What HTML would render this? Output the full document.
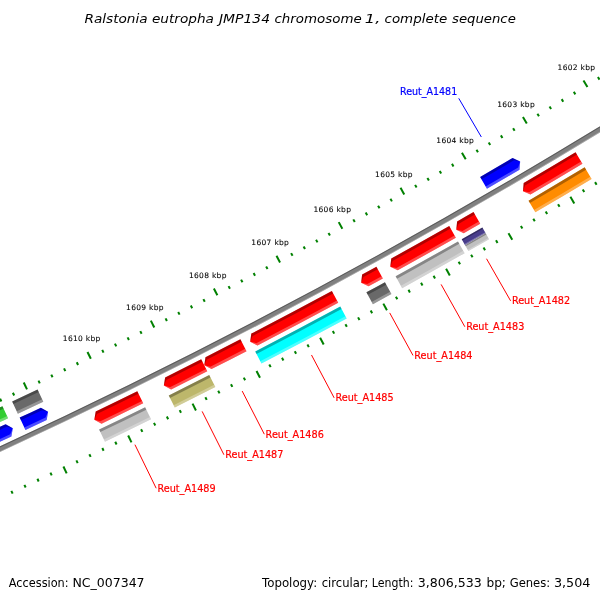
<!DOCTYPE html>
<html><head><meta charset="utf-8"><title>Ralstonia eutropha JMP134 chromosome 1, complete sequence</title>
<style>
html,body{margin:0;padding:0;background:#fff;}
body{width:600px;height:600px;overflow:hidden;}
svg{display:block;font-family:"DejaVu Sans","Liberation Sans",sans-serif;}
</style></head><body>
<svg width="600" height="600" viewBox="0 0 600 600">
<rect width="600" height="600" fill="#fff"/>
<path d="M704.50 61.29 A5995.1 5995.1 0 0 1 -126.13 502.94 L-124.06 507.71 A6000.4 6000.4 0 0 0 707.30 65.67 Z" fill="#808080"/>
<path d="M704.50 61.29 A5995.1 5995.1 0 0 1 -126.13 502.94 L-125.73 503.86 A5996.1 5996.1 0 0 0 705.04 62.13 Z" fill="#000" fill-opacity="0.30"/>
<path d="M706.87 65.00 A5999.6 5999.6 0 0 1 -124.38 506.98 L-124.06 507.71 A6000.4 6000.4 0 0 0 707.30 65.67 Z" fill="#fff" fill-opacity="0.30"/>
<line x1="597.93" y1="77.05" x2="599.50" y2="79.61" stroke="#008000" stroke-width="2.0"/>
<line x1="583.47" y1="80.52" x2="587.43" y2="87.00" stroke="#008000" stroke-width="2.0"/>
<line x1="573.78" y1="91.81" x2="575.34" y2="94.37" stroke="#008000" stroke-width="2.0"/>
<line x1="561.68" y1="99.14" x2="563.23" y2="101.71" stroke="#008000" stroke-width="2.0"/>
<line x1="549.56" y1="106.44" x2="551.10" y2="109.02" stroke="#008000" stroke-width="2.0"/>
<line x1="595.05" y1="182.13" x2="596.59" y2="184.70" stroke="#008000" stroke-width="2.0"/>
<line x1="537.42" y1="113.72" x2="538.96" y2="116.30" stroke="#008000" stroke-width="2.0"/>
<line x1="582.73" y1="189.51" x2="584.27" y2="192.08" stroke="#008000" stroke-width="2.0"/>
<line x1="522.91" y1="117.01" x2="526.80" y2="123.55" stroke="#008000" stroke-width="2.0"/>
<line x1="570.39" y1="196.86" x2="574.28" y2="203.40" stroke="#008000" stroke-width="2.0"/>
<line x1="513.09" y1="128.19" x2="514.62" y2="130.77" stroke="#008000" stroke-width="2.0"/>
<line x1="558.04" y1="204.19" x2="559.57" y2="206.77" stroke="#008000" stroke-width="2.0"/>
<line x1="500.90" y1="135.37" x2="502.42" y2="137.96" stroke="#008000" stroke-width="2.0"/>
<line x1="545.67" y1="211.48" x2="547.19" y2="214.07" stroke="#008000" stroke-width="2.0"/>
<line x1="488.70" y1="142.53" x2="490.21" y2="145.12" stroke="#008000" stroke-width="2.0"/>
<line x1="533.28" y1="218.75" x2="534.80" y2="221.34" stroke="#008000" stroke-width="2.0"/>
<line x1="476.47" y1="149.67" x2="477.98" y2="152.26" stroke="#008000" stroke-width="2.0"/>
<line x1="520.88" y1="225.99" x2="522.39" y2="228.58" stroke="#008000" stroke-width="2.0"/>
<line x1="461.93" y1="152.79" x2="465.74" y2="159.36" stroke="#008000" stroke-width="2.0"/>
<line x1="508.46" y1="233.20" x2="512.26" y2="239.77" stroke="#008000" stroke-width="2.0"/>
<line x1="451.98" y1="163.84" x2="453.47" y2="166.44" stroke="#008000" stroke-width="2.0"/>
<line x1="496.02" y1="240.37" x2="497.51" y2="242.97" stroke="#008000" stroke-width="2.0"/>
<line x1="439.70" y1="170.88" x2="441.19" y2="173.49" stroke="#008000" stroke-width="2.0"/>
<line x1="483.56" y1="247.52" x2="485.05" y2="250.13" stroke="#008000" stroke-width="2.0"/>
<line x1="427.41" y1="177.90" x2="428.90" y2="180.51" stroke="#008000" stroke-width="2.0"/>
<line x1="471.09" y1="254.64" x2="472.57" y2="257.25" stroke="#008000" stroke-width="2.0"/>
<line x1="415.10" y1="184.88" x2="416.58" y2="187.49" stroke="#008000" stroke-width="2.0"/>
<line x1="458.60" y1="261.73" x2="460.08" y2="264.34" stroke="#008000" stroke-width="2.0"/>
<line x1="400.52" y1="187.83" x2="404.25" y2="194.45" stroke="#008000" stroke-width="2.0"/>
<line x1="446.09" y1="268.79" x2="449.82" y2="275.41" stroke="#008000" stroke-width="2.0"/>
<line x1="390.44" y1="198.77" x2="391.91" y2="201.38" stroke="#008000" stroke-width="2.0"/>
<line x1="433.57" y1="275.82" x2="435.03" y2="278.44" stroke="#008000" stroke-width="2.0"/>
<line x1="378.08" y1="205.66" x2="379.54" y2="208.29" stroke="#008000" stroke-width="2.0"/>
<line x1="421.03" y1="282.82" x2="422.49" y2="285.44" stroke="#008000" stroke-width="2.0"/>
<line x1="365.71" y1="212.53" x2="367.16" y2="215.16" stroke="#008000" stroke-width="2.0"/>
<line x1="408.47" y1="289.79" x2="409.92" y2="292.41" stroke="#008000" stroke-width="2.0"/>
<line x1="353.32" y1="219.37" x2="354.77" y2="222.00" stroke="#008000" stroke-width="2.0"/>
<line x1="395.90" y1="296.73" x2="397.34" y2="299.35" stroke="#008000" stroke-width="2.0"/>
<line x1="338.71" y1="222.14" x2="342.36" y2="228.81" stroke="#008000" stroke-width="2.0"/>
<line x1="383.31" y1="303.64" x2="386.96" y2="310.30" stroke="#008000" stroke-width="2.0"/>
<line x1="328.49" y1="232.96" x2="329.93" y2="235.59" stroke="#008000" stroke-width="2.0"/>
<line x1="370.70" y1="310.52" x2="372.14" y2="313.15" stroke="#008000" stroke-width="2.0"/>
<line x1="316.06" y1="239.71" x2="317.48" y2="242.35" stroke="#008000" stroke-width="2.0"/>
<line x1="358.08" y1="317.37" x2="359.51" y2="320.01" stroke="#008000" stroke-width="2.0"/>
<line x1="303.60" y1="246.43" x2="305.02" y2="249.07" stroke="#008000" stroke-width="2.0"/>
<line x1="345.44" y1="324.19" x2="346.86" y2="326.83" stroke="#008000" stroke-width="2.0"/>
<line x1="291.13" y1="253.12" x2="292.55" y2="255.76" stroke="#008000" stroke-width="2.0"/>
<line x1="332.79" y1="330.98" x2="334.20" y2="333.62" stroke="#008000" stroke-width="2.0"/>
<line x1="276.49" y1="255.72" x2="280.05" y2="262.43" stroke="#008000" stroke-width="2.0"/>
<line x1="320.12" y1="337.74" x2="323.68" y2="344.45" stroke="#008000" stroke-width="2.0"/>
<line x1="266.14" y1="266.41" x2="267.55" y2="269.06" stroke="#008000" stroke-width="2.0"/>
<line x1="307.43" y1="344.47" x2="308.83" y2="347.12" stroke="#008000" stroke-width="2.0"/>
<line x1="253.63" y1="273.01" x2="255.02" y2="275.67" stroke="#008000" stroke-width="2.0"/>
<line x1="294.73" y1="351.17" x2="296.12" y2="353.82" stroke="#008000" stroke-width="2.0"/>
<line x1="241.09" y1="279.59" x2="242.48" y2="282.24" stroke="#008000" stroke-width="2.0"/>
<line x1="282.01" y1="357.83" x2="283.40" y2="360.49" stroke="#008000" stroke-width="2.0"/>
<line x1="228.55" y1="286.13" x2="229.93" y2="288.79" stroke="#008000" stroke-width="2.0"/>
<line x1="269.27" y1="364.47" x2="270.66" y2="367.14" stroke="#008000" stroke-width="2.0"/>
<line x1="213.87" y1="288.55" x2="217.36" y2="295.30" stroke="#008000" stroke-width="2.0"/>
<line x1="256.52" y1="371.08" x2="260.01" y2="377.83" stroke="#008000" stroke-width="2.0"/>
<line x1="203.40" y1="299.12" x2="204.77" y2="301.79" stroke="#008000" stroke-width="2.0"/>
<line x1="243.76" y1="377.66" x2="245.13" y2="380.33" stroke="#008000" stroke-width="2.0"/>
<line x1="190.81" y1="305.57" x2="192.17" y2="308.25" stroke="#008000" stroke-width="2.0"/>
<line x1="230.97" y1="384.21" x2="232.34" y2="386.88" stroke="#008000" stroke-width="2.0"/>
<line x1="178.20" y1="312.00" x2="179.56" y2="314.67" stroke="#008000" stroke-width="2.0"/>
<line x1="218.18" y1="390.73" x2="219.53" y2="393.40" stroke="#008000" stroke-width="2.0"/>
<line x1="165.57" y1="318.39" x2="166.92" y2="321.07" stroke="#008000" stroke-width="2.0"/>
<line x1="205.36" y1="397.21" x2="206.72" y2="399.89" stroke="#008000" stroke-width="2.0"/>
<line x1="150.87" y1="320.64" x2="154.28" y2="327.43" stroke="#008000" stroke-width="2.0"/>
<line x1="192.54" y1="403.67" x2="195.94" y2="410.46" stroke="#008000" stroke-width="2.0"/>
<line x1="140.28" y1="331.08" x2="141.61" y2="333.77" stroke="#008000" stroke-width="2.0"/>
<line x1="179.69" y1="410.10" x2="181.03" y2="412.78" stroke="#008000" stroke-width="2.0"/>
<line x1="127.60" y1="337.39" x2="128.94" y2="340.07" stroke="#008000" stroke-width="2.0"/>
<line x1="166.83" y1="416.49" x2="168.17" y2="419.18" stroke="#008000" stroke-width="2.0"/>
<line x1="114.92" y1="343.66" x2="116.25" y2="346.35" stroke="#008000" stroke-width="2.0"/>
<line x1="153.96" y1="422.86" x2="155.29" y2="425.55" stroke="#008000" stroke-width="2.0"/>
<line x1="102.22" y1="349.90" x2="103.54" y2="352.59" stroke="#008000" stroke-width="2.0"/>
<line x1="141.07" y1="429.19" x2="142.39" y2="431.89" stroke="#008000" stroke-width="2.0"/>
<line x1="87.49" y1="351.97" x2="90.82" y2="358.81" stroke="#008000" stroke-width="2.0"/>
<line x1="128.17" y1="435.50" x2="131.49" y2="442.33" stroke="#008000" stroke-width="2.0"/>
<line x1="76.77" y1="362.29" x2="78.08" y2="364.99" stroke="#008000" stroke-width="2.0"/>
<line x1="115.25" y1="441.77" x2="116.56" y2="444.47" stroke="#008000" stroke-width="2.0"/>
<line x1="64.03" y1="368.44" x2="65.33" y2="371.15" stroke="#008000" stroke-width="2.0"/>
<line x1="102.31" y1="448.01" x2="103.62" y2="450.71" stroke="#008000" stroke-width="2.0"/>
<line x1="51.27" y1="374.56" x2="52.56" y2="377.27" stroke="#008000" stroke-width="2.0"/>
<line x1="89.37" y1="454.22" x2="90.66" y2="456.93" stroke="#008000" stroke-width="2.0"/>
<line x1="38.50" y1="380.65" x2="39.78" y2="383.36" stroke="#008000" stroke-width="2.0"/>
<line x1="76.40" y1="460.40" x2="77.69" y2="463.11" stroke="#008000" stroke-width="2.0"/>
<line x1="23.74" y1="382.55" x2="26.99" y2="389.43" stroke="#008000" stroke-width="2.0"/>
<line x1="63.42" y1="466.55" x2="66.67" y2="473.42" stroke="#008000" stroke-width="2.0"/>
<line x1="12.90" y1="392.74" x2="14.18" y2="395.46" stroke="#008000" stroke-width="2.0"/>
<line x1="50.43" y1="472.67" x2="51.71" y2="475.39" stroke="#008000" stroke-width="2.0"/>
<line x1="0.09" y1="398.74" x2="1.36" y2="401.46" stroke="#008000" stroke-width="2.0"/>
<line x1="37.42" y1="478.76" x2="38.69" y2="481.48" stroke="#008000" stroke-width="2.0"/>
<line x1="24.40" y1="484.82" x2="25.67" y2="487.54" stroke="#008000" stroke-width="2.0"/>
<line x1="11.37" y1="490.84" x2="12.62" y2="493.57" stroke="#008000" stroke-width="2.0"/>
<text x="576.32" y="70.38" font-size="7.5" text-anchor="middle" textLength="37.5" lengthAdjust="spacing" fill="#000" stroke="#000" stroke-width="0.08">1602 kbp</text>
<text x="515.92" y="106.80" font-size="7.5" text-anchor="middle" textLength="37.5" lengthAdjust="spacing" fill="#000" stroke="#000" stroke-width="0.08">1603 kbp</text>
<text x="455.09" y="142.50" font-size="7.5" text-anchor="middle" textLength="37.5" lengthAdjust="spacing" fill="#000" stroke="#000" stroke-width="0.08">1604 kbp</text>
<text x="393.84" y="177.47" font-size="7.5" text-anchor="middle" textLength="37.5" lengthAdjust="spacing" fill="#000" stroke="#000" stroke-width="0.08">1605 kbp</text>
<text x="332.18" y="211.72" font-size="7.5" text-anchor="middle" textLength="37.5" lengthAdjust="spacing" fill="#000" stroke="#000" stroke-width="0.08">1606 kbp</text>
<text x="270.12" y="245.22" font-size="7.5" text-anchor="middle" textLength="37.5" lengthAdjust="spacing" fill="#000" stroke="#000" stroke-width="0.08">1607 kbp</text>
<text x="207.66" y="277.99" font-size="7.5" text-anchor="middle" textLength="37.5" lengthAdjust="spacing" fill="#000" stroke="#000" stroke-width="0.08">1608 kbp</text>
<text x="144.82" y="310.01" font-size="7.5" text-anchor="middle" textLength="37.5" lengthAdjust="spacing" fill="#000" stroke="#000" stroke-width="0.08">1609 kbp</text>
<text x="81.60" y="341.28" font-size="7.5" text-anchor="middle" textLength="37.5" lengthAdjust="spacing" fill="#000" stroke="#000" stroke-width="0.08">1610 kbp</text>
<path d="M575.55 152.19 A6004.6 6004.6 0 0 1 523.69 182.99 L522.97 191.19 L530.48 194.55 A6018.0 6018.0 0 0 0 582.45 163.68 Z" fill="#ff0000"/>
<path d="M575.55 152.19 A6004.6 6004.6 0 0 1 523.69 182.99 L522.97 191.19 L525.11 185.41 A6007.4 6007.4 0 0 0 576.99 154.59 Z" fill="#000" fill-opacity="0.30"/>
<path d="M581.11 161.45 A6015.4 6015.4 0 0 1 529.16 192.31 L522.97 191.19 L530.48 194.55 A6018.0 6018.0 0 0 0 582.45 163.68 Z" fill="#fff" fill-opacity="0.30"/>
<path d="M584.66 167.37 A6022.3 6022.3 0 0 1 528.53 200.68 L535.36 212.32 A6035.8 6035.8 0 0 0 591.62 178.94 Z" fill="#ff8c00"/>
<path d="M584.66 167.37 A6022.3 6022.3 0 0 1 528.53 200.68 L529.95 203.09 A6025.1 6025.1 0 0 0 586.11 169.77 Z" fill="#000" fill-opacity="0.30"/>
<path d="M590.28 176.71 A6033.2 6033.2 0 0 1 534.04 210.08 L535.36 212.32 A6035.8 6035.8 0 0 0 591.62 178.94 Z" fill="#fff" fill-opacity="0.30"/>
<path d="M473.53 212.12 A6004.6 6004.6 0 0 1 457.11 221.52 L456.28 229.70 L463.75 233.16 A6018.0 6018.0 0 0 0 480.20 223.74 Z" fill="#ff0000"/>
<path d="M473.53 212.12 A6004.6 6004.6 0 0 1 457.11 221.52 L456.28 229.70 L458.50 223.95 A6007.4 6007.4 0 0 0 474.93 214.55 Z" fill="#000" fill-opacity="0.30"/>
<path d="M478.91 221.49 A6015.4 6015.4 0 0 1 462.46 230.90 L456.28 229.70 L463.75 233.16 A6018.0 6018.0 0 0 0 480.20 223.74 Z" fill="#fff" fill-opacity="0.30"/>
<path d="M482.35 227.47 A6022.3 6022.3 0 0 1 461.72 239.26 L465.06 245.13 A6029.1 6029.1 0 0 0 485.71 233.32 Z" fill="#483d8b"/>
<path d="M482.35 227.47 A6022.3 6022.3 0 0 1 461.72 239.26 L462.41 240.48 A6023.7 6023.7 0 0 0 483.04 228.68 Z" fill="#000" fill-opacity="0.30"/>
<path d="M485.06 232.20 A6027.8 6027.8 0 0 1 464.42 244.00 L465.06 245.13 A6029.1 6029.1 0 0 0 485.71 233.32 Z" fill="#fff" fill-opacity="0.30"/>
<path d="M485.71 233.32 A6029.1 6029.1 0 0 1 465.06 245.13 L468.40 250.99 A6035.8 6035.8 0 0 0 489.07 239.18 Z" fill="#c0c0c0"/>
<path d="M485.71 233.32 A6029.1 6029.1 0 0 1 465.06 245.13 L465.75 246.34 A6030.4 6030.4 0 0 0 486.40 234.54 Z" fill="#000" fill-opacity="0.30"/>
<path d="M488.42 238.05 A6034.5 6034.5 0 0 1 467.76 249.86 L468.40 250.99 A6035.8 6035.8 0 0 0 489.07 239.18 Z" fill="#fff" fill-opacity="0.30"/>
<line x1="486.53" y1="258.73" x2="510.60" y2="300.83" stroke="#ff0000" stroke-width="1"/>
<text x="511.90" y="304.43" font-size="10" textLength="58.2" lengthAdjust="spacingAndGlyphs" stroke="#ff0000" stroke-width="0.2" fill="#ff0000">Reut_A1482</text>
<path d="M449.23 226.00 A6004.6 6004.6 0 0 1 391.24 258.52 L390.30 266.70 L397.72 270.25 A6018.0 6018.0 0 0 0 455.85 237.65 Z" fill="#ff0000"/>
<path d="M449.23 226.00 A6004.6 6004.6 0 0 1 391.24 258.52 L390.30 266.70 L392.59 260.97 A6007.4 6007.4 0 0 0 450.62 228.43 Z" fill="#000" fill-opacity="0.30"/>
<path d="M454.57 235.39 A6015.4 6015.4 0 0 1 396.47 267.97 L390.30 266.70 L397.72 270.25 A6018.0 6018.0 0 0 0 455.85 237.65 Z" fill="#fff" fill-opacity="0.30"/>
<path d="M457.98 241.39 A6022.3 6022.3 0 0 1 395.62 276.32 L402.15 288.14 A6035.8 6035.8 0 0 0 464.64 253.13 Z" fill="#c0c0c0"/>
<path d="M457.98 241.39 A6022.3 6022.3 0 0 1 395.62 276.32 L396.98 278.77 A6025.1 6025.1 0 0 0 459.36 243.82 Z" fill="#000" fill-opacity="0.30"/>
<path d="M463.36 250.87 A6033.2 6033.2 0 0 1 400.89 285.86 L402.15 288.14 A6035.8 6035.8 0 0 0 464.64 253.13 Z" fill="#fff" fill-opacity="0.30"/>
<line x1="441.12" y1="284.42" x2="464.83" y2="326.74" stroke="#ff0000" stroke-width="1"/>
<text x="466.13" y="330.34" font-size="10" textLength="58.2" lengthAdjust="spacingAndGlyphs" stroke="#ff0000" stroke-width="0.2" fill="#ff0000">Reut_A1483</text>
<path d="M376.42 266.70 A6004.6 6004.6 0 0 1 362.12 274.53 L361.15 282.70 L368.55 286.29 A6018.0 6018.0 0 0 0 382.87 278.44 Z" fill="#ff0000"/>
<path d="M376.42 266.70 A6004.6 6004.6 0 0 1 362.12 274.53 L361.15 282.70 L363.47 276.99 A6007.4 6007.4 0 0 0 377.76 269.15 Z" fill="#000" fill-opacity="0.30"/>
<path d="M381.62 276.16 A6015.4 6015.4 0 0 1 367.30 284.01 L361.15 282.70 L368.55 286.29 A6018.0 6018.0 0 0 0 382.87 278.44 Z" fill="#fff" fill-opacity="0.30"/>
<path d="M384.94 282.21 A6022.3 6022.3 0 0 1 366.41 292.36 L372.88 304.21 A6035.8 6035.8 0 0 0 391.45 294.04 Z" fill="#696969"/>
<path d="M384.94 282.21 A6022.3 6022.3 0 0 1 366.41 292.36 L367.75 294.81 A6025.1 6025.1 0 0 0 386.29 284.66 Z" fill="#000" fill-opacity="0.30"/>
<path d="M390.20 291.76 A6033.2 6033.2 0 0 1 371.63 301.93 L372.88 304.21 A6035.8 6035.8 0 0 0 391.45 294.04 Z" fill="#fff" fill-opacity="0.30"/>
<line x1="389.71" y1="312.90" x2="413.00" y2="355.44" stroke="#ff0000" stroke-width="1"/>
<text x="414.30" y="359.04" font-size="10" textLength="58.2" lengthAdjust="spacingAndGlyphs" stroke="#ff0000" stroke-width="0.2" fill="#ff0000">Reut_A1484</text>
<path d="M331.87 290.95 A6004.6 6004.6 0 0 1 251.32 333.57 L250.17 341.71 L257.50 345.46 A6018.0 6018.0 0 0 0 338.22 302.75 Z" fill="#ff0000"/>
<path d="M331.87 290.95 A6004.6 6004.6 0 0 1 251.32 333.57 L250.17 341.71 L252.61 336.05 A6007.4 6007.4 0 0 0 333.19 293.42 Z" fill="#000" fill-opacity="0.30"/>
<path d="M336.99 300.46 A6015.4 6015.4 0 0 1 256.30 343.15 L250.17 341.71 L257.50 345.46 A6018.0 6018.0 0 0 0 338.22 302.75 Z" fill="#fff" fill-opacity="0.30"/>
<path d="M340.26 306.53 A6022.3 6022.3 0 0 1 255.24 351.48 L261.45 363.46 A6035.8 6035.8 0 0 0 346.67 318.42 Z" fill="#00ffff"/>
<path d="M340.26 306.53 A6022.3 6022.3 0 0 1 255.24 351.48 L256.53 353.96 A6025.1 6025.1 0 0 0 341.59 309.00 Z" fill="#000" fill-opacity="0.30"/>
<path d="M345.43 316.13 A6033.2 6033.2 0 0 1 260.25 361.16 L261.45 363.46 A6035.8 6035.8 0 0 0 346.67 318.42 Z" fill="#fff" fill-opacity="0.30"/>
<line x1="311.49" y1="354.99" x2="334.15" y2="397.87" stroke="#ff0000" stroke-width="1"/>
<text x="335.45" y="401.47" font-size="10" textLength="58.2" lengthAdjust="spacingAndGlyphs" stroke="#ff0000" stroke-width="0.2" fill="#ff0000">Reut_A1485</text>
<path d="M240.39 339.23 A6004.6 6004.6 0 0 1 205.47 357.14 L204.25 365.28 L211.54 369.08 A6018.0 6018.0 0 0 0 246.54 351.14 Z" fill="#ff0000"/>
<path d="M240.39 339.23 A6004.6 6004.6 0 0 1 205.47 357.14 L204.25 365.28 L206.73 359.64 A6007.4 6007.4 0 0 0 241.68 341.72 Z" fill="#000" fill-opacity="0.30"/>
<path d="M245.35 348.83 A6015.4 6015.4 0 0 1 210.36 366.77 L204.25 365.28 L211.54 369.08 A6018.0 6018.0 0 0 0 246.54 351.14 Z" fill="#fff" fill-opacity="0.30"/>
<line x1="242.20" y1="391.05" x2="264.31" y2="434.21" stroke="#ff0000" stroke-width="1"/>
<text x="265.61" y="437.81" font-size="10" textLength="58.2" lengthAdjust="spacingAndGlyphs" stroke="#ff0000" stroke-width="0.2" fill="#ff0000">Reut_A1486</text>
<path d="M201.21 359.30 A6004.6 6004.6 0 0 1 165.13 377.47 L163.85 385.59 L171.11 389.46 A6018.0 6018.0 0 0 0 207.28 371.25 Z" fill="#ff0000"/>
<path d="M201.21 359.30 A6004.6 6004.6 0 0 1 165.13 377.47 L163.85 385.59 L166.38 379.97 A6007.4 6007.4 0 0 0 202.48 361.80 Z" fill="#000" fill-opacity="0.30"/>
<path d="M206.10 368.93 A6015.4 6015.4 0 0 1 169.95 387.13 L163.85 385.59 L171.11 389.46 A6018.0 6018.0 0 0 0 207.28 371.25 Z" fill="#fff" fill-opacity="0.30"/>
<path d="M209.23 375.08 A6022.3 6022.3 0 0 1 168.75 395.44 L174.77 407.52 A6035.8 6035.8 0 0 0 215.34 387.12 Z" fill="#bdb76b"/>
<path d="M209.23 375.08 A6022.3 6022.3 0 0 1 168.75 395.44 L170.00 397.94 A6025.1 6025.1 0 0 0 210.49 377.58 Z" fill="#000" fill-opacity="0.30"/>
<path d="M214.16 384.80 A6033.2 6033.2 0 0 1 173.61 405.19 L174.77 407.52 A6035.8 6035.8 0 0 0 215.34 387.12 Z" fill="#fff" fill-opacity="0.30"/>
<line x1="202.13" y1="411.39" x2="223.92" y2="454.72" stroke="#ff0000" stroke-width="1"/>
<text x="225.22" y="458.32" font-size="10" textLength="58.2" lengthAdjust="spacingAndGlyphs" stroke="#ff0000" stroke-width="0.2" fill="#ff0000">Reut_A1487</text>
<path d="M137.29 391.27 A6004.6 6004.6 0 0 1 95.71 411.56 L94.32 419.67 L101.54 423.63 A6018.0 6018.0 0 0 0 143.21 403.29 Z" fill="#ff0000"/>
<path d="M137.29 391.27 A6004.6 6004.6 0 0 1 95.71 411.56 L94.32 419.67 L96.93 414.08 A6007.4 6007.4 0 0 0 138.53 393.78 Z" fill="#000" fill-opacity="0.30"/>
<path d="M142.06 400.96 A6015.4 6015.4 0 0 1 100.41 421.29 L94.32 419.67 L101.54 423.63 A6018.0 6018.0 0 0 0 143.21 403.29 Z" fill="#fff" fill-opacity="0.30"/>
<path d="M145.11 407.15 A6022.3 6022.3 0 0 1 99.10 429.58 L104.97 441.74 A6035.8 6035.8 0 0 0 151.08 419.26 Z" fill="#c0c0c0"/>
<path d="M145.11 407.15 A6022.3 6022.3 0 0 1 99.10 429.58 L100.32 432.10 A6025.1 6025.1 0 0 0 146.35 409.66 Z" fill="#000" fill-opacity="0.30"/>
<path d="M149.93 416.93 A6033.2 6033.2 0 0 1 103.84 439.40 L104.97 441.74 A6035.8 6035.8 0 0 0 151.08 419.26 Z" fill="#fff" fill-opacity="0.30"/>
<line x1="134.93" y1="444.66" x2="156.18" y2="488.26" stroke="#ff0000" stroke-width="1"/>
<text x="157.48" y="491.86" font-size="10" textLength="58.2" lengthAdjust="spacingAndGlyphs" stroke="#ff0000" stroke-width="0.2" fill="#ff0000">Reut_A1489</text>
<path d="M520.16 161.40 L512.62 157.95 A5977.4 5977.4 0 0 1 480.14 176.91 L486.96 188.68 A5991.0 5991.0 0 0 0 519.51 169.68 Z" fill="#0000ff"/>
<path d="M520.16 161.40 L512.62 157.95 A5977.4 5977.4 0 0 1 480.14 176.91 L481.54 179.33 A5980.2 5980.2 0 0 0 514.04 160.36 Z" fill="#000" fill-opacity="0.30"/>
<path d="M520.16 161.40 L518.19 167.43 A5988.4 5988.4 0 0 1 485.65 186.43 L486.96 188.68 A5991.0 5991.0 0 0 0 519.51 169.68 Z" fill="#fff" fill-opacity="0.30"/>
<line x1="481.34" y1="136.99" x2="458.74" y2="98.30" stroke="#0000ff" stroke-width="1"/>
<text x="457.20" y="94.80" font-size="10" text-anchor="end" textLength="57.2" lengthAdjust="spacingAndGlyphs" stroke="#0000ff" stroke-width="0.2" fill="#0000ff">Reut_A1481</text>
<path d="M48.07 411.75 L40.86 407.64 A5977.4 5977.4 0 0 1 19.68 417.62 L25.45 429.94 A5991.0 5991.0 0 0 0 46.68 419.94 Z" fill="#0000ff"/>
<path d="M48.07 411.75 L40.86 407.64 A5977.4 5977.4 0 0 1 19.68 417.62 L20.86 420.16 A5980.2 5980.2 0 0 0 42.06 410.17 Z" fill="#000" fill-opacity="0.30"/>
<path d="M48.07 411.75 L45.57 417.59 A5988.4 5988.4 0 0 1 24.34 427.58 L25.45 429.94 A5991.0 5991.0 0 0 0 46.68 419.94 Z" fill="#fff" fill-opacity="0.30"/>
<path d="M37.57 389.62 A5959.7 5959.7 0 0 1 12.16 401.60 L17.83 413.68 A5973.1 5973.1 0 0 0 43.29 401.68 Z" fill="#696969"/>
<path d="M37.57 389.62 A5959.7 5959.7 0 0 1 12.16 401.60 L13.34 404.10 A5962.5 5962.5 0 0 0 38.75 392.12 Z" fill="#000" fill-opacity="0.30"/>
<path d="M42.19 399.36 A5970.5 5970.5 0 0 1 16.74 411.36 L17.83 413.68 A5973.1 5973.1 0 0 0 43.29 401.68 Z" fill="#fff" fill-opacity="0.30"/>
<path d="M12.82 428.34 L5.64 424.18 A5977.4 5977.4 0 0 1 -47.40 448.55 L-41.78 460.94 A5991.0 5991.0 0 0 0 11.38 436.51 Z" fill="#0000ff"/>
<path d="M12.82 428.34 L5.64 424.18 A5977.4 5977.4 0 0 1 -47.40 448.55 L-46.24 451.10 A5980.2 5980.2 0 0 0 6.82 426.72 Z" fill="#000" fill-opacity="0.30"/>
<path d="M12.82 428.34 L10.28 434.15 A5988.4 5988.4 0 0 1 -42.86 458.57 L-41.78 460.94 A5991.0 5991.0 0 0 0 11.38 436.51 Z" fill="#fff" fill-opacity="0.30"/>
<path d="M2.46 406.13 A5959.7 5959.7 0 0 1 -54.71 432.43 L-49.20 444.59 A5973.1 5973.1 0 0 0 8.10 418.23 Z" fill="#32cd32"/>
<path d="M2.46 406.13 A5959.7 5959.7 0 0 1 -54.71 432.43 L-53.57 434.95 A5962.5 5962.5 0 0 0 3.63 408.64 Z" fill="#000" fill-opacity="0.30"/>
<path d="M7.02 415.90 A5970.5 5970.5 0 0 1 -50.26 442.25 L-49.20 444.59 A5973.1 5973.1 0 0 0 8.10 418.23 Z" fill="#fff" fill-opacity="0.30"/>
<text y="22.6" font-size="13" font-style="italic" fill="#000"><tspan x="84.4" textLength="63.3" lengthAdjust="spacingAndGlyphs">Ralstonia</tspan> <tspan x="151.9" textLength="62.0" lengthAdjust="spacingAndGlyphs">eutropha</tspan> <tspan x="219.0" textLength="51.0" lengthAdjust="spacingAndGlyphs">JMP134</tspan> <tspan x="274.5" textLength="87.3" lengthAdjust="spacingAndGlyphs">chromosome</tspan> <tspan x="364.8" textLength="15.5" lengthAdjust="spacingAndGlyphs">1,</tspan> <tspan x="384.5" textLength="62.7" lengthAdjust="spacingAndGlyphs">complete</tspan> <tspan x="452.0" textLength="63.8" lengthAdjust="spacingAndGlyphs">sequence</tspan></text>
<text y="587.0" font-size="12.5"  fill="#000"><tspan x="8.8" textLength="59.8" lengthAdjust="spacingAndGlyphs">Accession:</tspan> <tspan x="72.4" textLength="72.2" lengthAdjust="spacingAndGlyphs">NC_007347</tspan></text>
<text y="587.0" font-size="12.5"  fill="#000"><tspan x="262.0" textLength="55.2" lengthAdjust="spacingAndGlyphs">Topology:</tspan> <tspan x="321.7" textLength="46.8" lengthAdjust="spacingAndGlyphs">circular;</tspan> <tspan x="371.8" textLength="41.6" lengthAdjust="spacingAndGlyphs">Length:</tspan> <tspan x="417.7" textLength="64.0" lengthAdjust="spacingAndGlyphs">3,806,533</tspan> <tspan x="486.4" textLength="19.6" lengthAdjust="spacingAndGlyphs">bp;</tspan> <tspan x="509.7" textLength="40.5" lengthAdjust="spacingAndGlyphs">Genes:</tspan> <tspan x="553.9" textLength="36.5" lengthAdjust="spacingAndGlyphs">3,504</tspan></text>
</svg>
</body></html>
